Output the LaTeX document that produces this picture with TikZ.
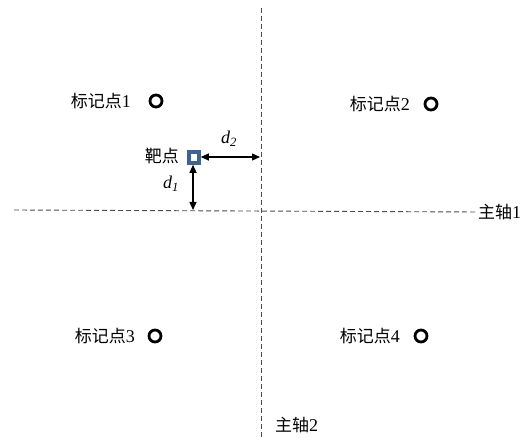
\documentclass[tikz,border=0pt]{standalone}
\usepackage{fontspec}
\setmainfont{Liberation Serif}
\newfontfamily\cjk{Noto Sans CJK SC}
\usetikzlibrary{arrows.meta}
\definecolor{targetblue}{RGB}{62,98,148}
\begin{document}
\begin{tikzpicture}[x=1pt,y=-1pt,
    axis/.style={black!70, line width=0.9pt, dash pattern=on 5pt off 3pt},
    marker/.style={circle, draw=black, line width=2.8pt, minimum size=12pt, inner sep=0pt},
    lbl/.style={font=\fontsize{18}{20}\selectfont, inner sep=1pt},
    dist/.style={{Triangle[length=8pt,width=7pt]}-{Triangle[length=8pt,width=7pt]}, line width=1.3pt}]
    \useasboundingbox (0,0) rectangle (524,438);

    % Assen
    \coordinate (h0) at (14,210);
    \node[lbl, anchor=west] (ax1) at (477,212) {{\cjk\fontsize{17}{20}\selectfont 主轴}1};
    \draw[axis] (h0) -- (ax1.west);
    \coordinate (v0) at (261,8);
    \coordinate (v1) at (261,438);
    \draw[axis] (v0) -- (v1);
    \node[lbl, anchor=west] (ax2) at (274,425) {{\cjk\fontsize{17}{20}\selectfont 主轴}2};

    % Markers
    \node[marker] (m1) at (156,101) {};
    \node[lbl, anchor=east] (l1) at (132,101) {{\cjk\fontsize{17}{20}\selectfont 标记点}1};
    \node[marker] (m2) at (431,104) {};
    \node[lbl, anchor=east] (l2) at (411,104) {{\cjk\fontsize{17}{20}\selectfont 标记点}2};
    \node[marker] (m3) at (155,336) {};
    \node[lbl, anchor=east] (l3) at (136,336) {{\cjk\fontsize{17}{20}\selectfont 标记点}3};
    \node[marker] (m4) at (421,336) {};
    \node[lbl, anchor=east] (l4) at (401,336) {{\cjk\fontsize{17}{20}\selectfont 标记点}4};

    % Target
    \node[draw=targetblue, line width=3.6pt, minimum width=10pt, minimum height=11pt, inner sep=0pt] (t) at (194,157.5) {};
    \node[lbl, anchor=east] (tl) at (180,156) {\cjk\fontsize{17}{20}\selectfont 靶点};

    % Distances
    \coordinate (a2) at (260,157);
    \draw[dist] (t.east |- a2) -- (a2);
    \node[lbl] (d2) at (229,139) {\itshape d\textsubscript{2}};
    \coordinate (a1) at (193,210);
    \draw[dist] (t.south -| a1) -- (a1);
    \node[lbl] (d1) at (171,184) {\itshape d\textsubscript{1}};
\end{tikzpicture}
\end{document}
